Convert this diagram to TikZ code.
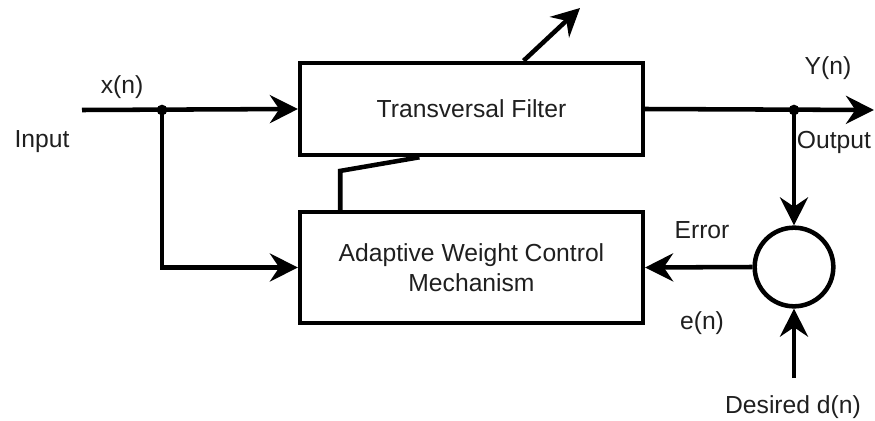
\documentclass[tikz,border=0pt]{standalone}
\usepackage{fontspec}
\setmainfont{Liberation Sans}
\usetikzlibrary{arrows.meta,calc}

\begin{document}
\begin{tikzpicture}[x=0.75pt,y=-0.75pt,
    line width=3.4pt,
    sig/.style={-{Stealth[length=21pt 0 0,width=21pt 0 0,inset=7pt 0]}},
    lbl/.style={text=black!88,font=\fontsize{18.5}{22.5}\selectfont},
    blk/.style={draw,rectangle,minimum width=257pt,lbl,align=center},
    junc/.style={circle,fill,inner sep=0pt,minimum size=8pt}]
    \useasboundingbox (0,0) rectangle (875,421);
    % blocks
    \node[blk,minimum height=69pt] (tf) at (471.5,109) {Transversal Filter};
    \node[blk,minimum height=83pt] (awc) at (471.5,267.5) {Adaptive Weight Control\\Mechanism};
    \node[draw,circle,minimum size=59pt,inner sep=0pt] (sum) at (794,267) {};
    % free ends and branch points
    \coordinate (xin) at (82,110);
    \coordinate (j1) at (162,110);
    \coordinate (yout) at (874,110);
    \coordinate (j2) at (794,110);
    \coordinate (dn) at (794,378);
    \coordinate (wout) at (580,8);
    % signal paths
    \draw[sig] (xin) -- (tf.west);
    \draw[sig] (j1) |- (awc.west);
    \draw[sig] (tf.east) -- (yout);
    \draw[sig] (j2) -- (sum.north);
    \draw[sig] (sum.west) -- (awc.east);
    \draw[sig] (dn) -- (sum.south);
    \draw[sig] ($(tf.north west)!0.65!(tf.north east)$) -- (wout);
    \draw ($(awc.north west)!0.122!(awc.north east)$) -- ++(0,-39)
      -- ($(tf.south west)!0.35!(tf.south east)$);
    \node[junc] (d1) at (j1) {};
    \node[junc] (d2) at (j2) {};
    % labels
    \node[lbl] (xn) at (122,87) {x(n)};
    \node[lbl] (inp) at (42,142) {Input};
    \node[lbl] (yn) at (828,68) {Y(n)};
    \node[lbl] (outp) at (834,142) {Output};
    \node[lbl] (err) at (702,230) {Error};
    \node[lbl] (en) at (702,323) {e(n)};
    \node[lbl] (des) at (793,407) {Desired d(n)};
\end{tikzpicture}
\end{document}
